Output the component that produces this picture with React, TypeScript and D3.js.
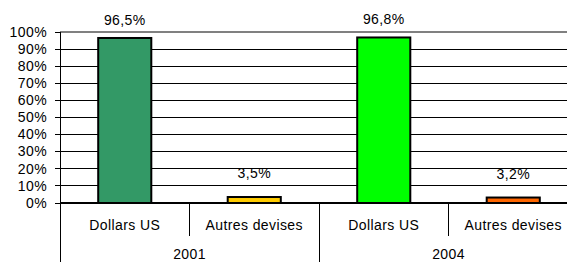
import React from 'react';
import * as d3 from 'd3';

// Parts of the total, by year and currency
const years = ['2001', '2004'];
const currencies = ['Dollars US', 'Autres devises'];
const values = [0.965, 0.035, 0.968, 0.032];
const valueLabels = ['96,5%', '3,5%', '96,8%', '3,2%'];
const barColors = ['#339966', '#FFCC00', '#00FF00', '#FF6600'];
const yTicks = [0, 0.1, 0.2, 0.3, 0.4, 0.5, 0.6, 0.7, 0.8, 0.9, 1];

const W = 567;
const H = 262;
const FONT = 'Arial, "Liberation Sans", sans-serif';

export default function App() {
  const left = 60;
  const right = 578;
  const top = 32;
  const bottom = 203;

  const keys = years.flatMap(y => currencies.map(c => `${y}|${c}`));
  const x = d3.scaleBand<string>().domain(keys).range([left, right]).padding(0);
  const yearScale = d3.scaleBand<string>().domain(years).range([left, right]).padding(0);
  const y = d3.scaleLinear().domain([0, 1]).range([bottom, top]);
  const barW = x.bandwidth() * 0.41;
  const pct = d3.format('.0%');

  return (
    <svg width={W} height={H} style={{ position: 'absolute', left: 0, top: 0, background: '#fff' }} fontFamily={FONT}>
      {/* gridlines */}
      {yTicks.map(t => (
        <line key={'g' + t} x1={left} x2={W} y1={y(t)} y2={y(t)}
          stroke={t === 1 ? '#808080' : '#000'} strokeWidth={t === 1 ? 2 : 1} shapeRendering="crispEdges" />
      ))}
      {/* y axis */}
      <line x1={left} x2={left} y1={top} y2={H} stroke="#000" shapeRendering="crispEdges" />
      {yTicks.map(t => (
        <g key={'t' + t}>
          <line x1={left - 5} x2={left} y1={y(t)} y2={y(t)} stroke="#000" shapeRendering="crispEdges" />
          <text x={47} y={y(t) + 4.7} textAnchor="end" fontSize={14} letterSpacing={0.4} fill="#000">{pct(t)}</text>
        </g>
      ))}
      {/* bars */}
      {keys.map((k, i) => {
        const cx = (x(k) || 0) + x.bandwidth() / 2;
        return (
          <g key={k}>
            <rect x={cx - barW / 2} y={y(values[i])} width={barW} height={bottom - y(values[i])}
              fill={barColors[i]} stroke="#000" strokeWidth={2} />
            <text x={cx} y={y(values[i]) - (values[i] > 0.5 ? 13 : 19)} textAnchor="middle" fontSize={14}
              letterSpacing={0.4} fill="#000">{valueLabels[i]}</text>
            <text x={cx} y={230} textAnchor="middle" fontSize={14} letterSpacing={0.4} fill="#000">
              {k.split('|')[1]}
            </text>
          </g>
        );
      })}
      {/* category separators */}
      {keys.slice(1).map((k, i) => {
        const sx = x(k) || 0;
        const full = (i + 1) % currencies.length === 0;
        return <line key={'s' + k} x1={sx} x2={sx} y1={bottom} y2={full ? H : 236} stroke="#000" shapeRendering="crispEdges" />;
      })}
      {years.map(yr => (
        <text key={yr} x={(yearScale(yr) || 0) + yearScale.bandwidth() / 2} y={259} textAnchor="middle"
          fontSize={14} letterSpacing={0.4} fill="#000">{yr}</text>
      ))}
      {/* x axis */}
      <line x1={left} x2={W} y1={bottom} y2={bottom} stroke="#000" strokeWidth={1.5} shapeRendering="crispEdges" />
    </svg>
  );
}
